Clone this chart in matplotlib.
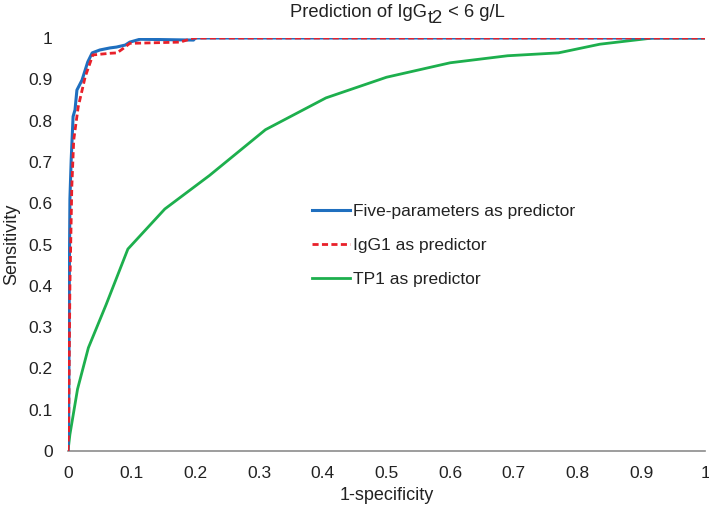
import matplotlib
matplotlib.use("Agg")
import matplotlib.pyplot as plt
from matplotlib.transforms import offset_copy

plt.rcParams['font.family'] = ['Liberation Sans', 'DejaVu Sans']

# Data
five_x = [0.0, 0.001, 0.002, 0.003, 0.005, 0.008, 0.011, 0.014, 0.022, 0.031, 0.038, 0.05, 0.066, 0.076, 0.09, 0.097, 0.113, 0.197, 0.2, 1.0]
five_y = [0.0, 0.05, 0.4, 0.61, 0.705, 0.81, 0.826, 0.874, 0.898, 0.942, 0.964, 0.971, 0.976, 0.978, 0.983, 0.99, 0.997, 0.995, 1.0, 1.0]

igg_x = [0.0, 0.001, 0.003, 0.006, 0.009, 0.016, 0.027, 0.039, 0.066, 0.077, 0.087, 0.097, 0.176, 0.197, 1.0]
igg_y = [0.0, 0.05, 0.4, 0.64, 0.753, 0.833, 0.906, 0.959, 0.963, 0.964, 0.975, 0.987, 0.99, 1.0, 1.0]

tp_x = [0.0, 0.003, 0.015, 0.032, 0.06, 0.094, 0.152, 0.222, 0.31, 0.405, 0.5, 0.6, 0.69, 0.77, 0.835, 0.918, 1.0]
tp_y = [0.0, 0.04, 0.15, 0.25, 0.355, 0.489, 0.586, 0.667, 0.778, 0.855, 0.905, 0.94, 0.957, 0.964, 0.985, 1.0, 1.0]

labels = ['Five-parameters as predictor', 'IgG1 as predictor', 'TP1 as predictor']
ticks = [0, 0.1, 0.2, 0.3, 0.4, 0.5, 0.6, 0.7, 0.8, 0.9, 1]
tick_labels = ['0', '0.1', '0.2', '0.3', '0.4', '0.5', '0.6', '0.7', '0.8', '0.9', '1']
title_parts = ['Prediction of IgG', 't2', ' < 6 g/L']

fig = plt.figure(figsize=(7.09, 5.05), dpi=100)
ax = fig.add_axes([68/709, 1 - 451/505, (705-68)/709, (451-38)/505])

ax.plot(tp_x, tp_y, color='#1daf4d', lw=2.0, label=labels[2], zorder=2)
ax.plot(five_x, five_y, color='#1f6fbf', lw=2.2, label=labels[0], zorder=3)
ax.plot(igg_x, igg_y, color='#e8202a', lw=2.0, ls=(0, (2.2, 1.2)), label=labels[1], zorder=4)

ax.set_xlim(0, 1)
ax.set_ylim(0, 1)
ax.set_xticks(ticks)
ax.set_xticklabels(tick_labels)
ax.set_yticks(ticks)
ax.set_yticklabels(tick_labels)
ax.tick_params(length=0, labelsize=12.5, colors='#222222', pad=11)
for s in ['top', 'right', 'left']:
    ax.spines[s].set_visible(False)
ax.spines['bottom'].set_color('#8c8c8c')
ax.spines['bottom'].set_linewidth(1.2)

ax.set_xlabel('1-specificity', fontsize=13, color='#222222', labelpad=4)
ax.set_ylabel('Sensitivity', fontsize=13, color='#222222', labelpad=6)

# Title with a full-size lowered subscript
fig.canvas.draw()
renderer = fig.canvas.get_renderer()
x0 = 290 / 709
ybase = 1 - 17 / 505
fs_t = 13.2
t1 = fig.text(x0, ybase, title_parts[0], ha='left', va='baseline', fontsize=fs_t, color='#222222')
w1 = t1.get_window_extent(renderer).width
t2 = fig.text(0, 0, title_parts[1], ha='left', va='baseline', fontsize=fs_t, color='#222222',
              transform=offset_copy(fig.transFigure, fig=fig, x=w1 * 72 / 100 + 0.5, y=-4, units='points'))
t2.set_position((x0, ybase))
w2 = t2.get_window_extent(renderer).width
t3 = fig.text(0, 0, title_parts[2], ha='left', va='baseline', fontsize=fs_t, color='#222222',
              transform=offset_copy(fig.transFigure, fig=fig, x=(w1 + w2) * 72 / 100 + 0.5, y=0, units='points'))
t3.set_position((x0, ybase))

h, l = ax.get_legend_handles_labels()
order = [1, 2, 0]
leg = ax.legend([h[i] for i in order], [l[i] for i in order], loc='upper left',
                bbox_to_anchor=((296-68)/637, (451-188)/413), frameon=False,
                fontsize=12.5, handlelength=2.2, handletextpad=0.2, labelspacing=1.1)
for t in leg.get_texts():
    t.set_color('#222222')

fig.savefig('out.png', dpi=100)
